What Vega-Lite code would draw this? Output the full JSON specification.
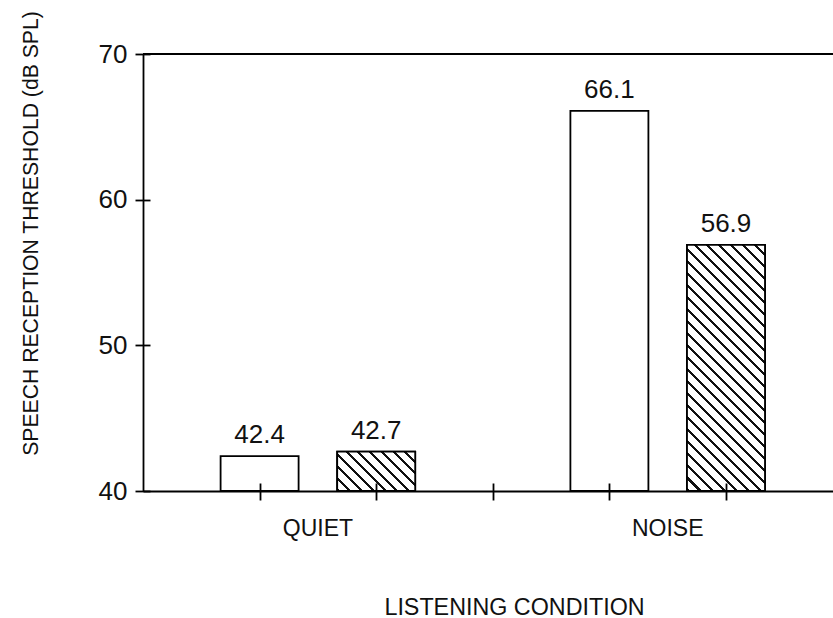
{
  "$schema": "https://vega.github.io/schema/vega-lite/v6.json",
  "width": 690,
  "height": 437,
  "autosize": {"type": "none"},
  "padding": {"left": 143, "top": 54, "right": 0, "bottom": 127},
  "background": "white",
  "config": {
    "view": {"stroke": null},
    "font": "Liberation Sans",
    "axis": {
      "grid": false,
      "labelFont": "Liberation Sans",
      "titleFont": "Liberation Sans",
      "labelColor": "#111111",
      "titleColor": "#111111",
      "titleFontWeight": "normal",
      "domainColor": "#000000",
      "tickColor": "#000000",
      "domainWidth": 1.8,
      "tickWidth": 1.8
    }
  },
  "data": {
    "values": [
      {"condition": "QUIET", "group": "open", "value": 42.4},
      {"condition": "QUIET", "group": "hatched", "value": 42.7},
      {"condition": "NOISE", "group": "open", "value": 66.1},
      {"condition": "NOISE", "group": "hatched", "value": 56.9}
    ]
  },
  "layer": [
    {
      "encoding": {
        "x": {
          "field": "condition",
          "type": "nominal",
          "sort": null,
          "scale": {"domain": ["QUIET", "NOISE"], "range": [0, 699.6], "paddingInner": 0, "paddingOuter": 0},
          "axis": {
            "orient": "bottom",
            "ticks": false,
            "tickSize": 0,
            "domain": false,
            "labelAngle": 0,
            "labelFontSize": 23,
            "labelPadding": 26,
            "encoding": {"labels": {"dx": {"signal": "datum.value === 'NOISE' ? 9 : -4"}}},
            "title": "LISTENING CONDITION",
            "titleFontSize": 23.3,
            "titleX": 371,
            "titleY": 123,
            "titleAlign": "center",
            "titleBaseline": "alphabetic"
          }
        },
        "xOffset": {
          "field": "group",
          "type": "nominal",
          "sort": null,
          "scale": {"domain": ["open", "hatched"], "paddingInner": 0.331, "paddingOuter": 0.6655}
        },
        "y": {
          "field": "value",
          "type": "quantitative",
          "scale": {"domain": [40, 70], "nice": false, "zero": false},
          "axis": {
            "orient": "left",
            "values": [40, 50, 60, 70],
            "tickSize": 8,
            "labelPadding": 8,
            "labelFontSize": 26,
            "zindex": 1,
            "encoding": {"ticks": {"x": {"value": 7}, "x2": {"value": -8}}},
            "title": "SPEECH RECEPTION THRESHOLD (dB SPL)",
            "titleFontSize": 21.2,
            "titleAngle": -90,
            "titleX": -106,
            "titleY": 179,
            "titleAlign": "center",
            "titleBaseline": "alphabetic"
          }
        }
      },
      "layer": [
        {
          "mark": {"type": "bar", "fill": "white", "stroke": "black", "strokeWidth": 1.8},
          "encoding": {"y2": {"datum": 40}}
        },
        {
          "transform": [{"filter": "datum.condition === 'QUIET' && datum.group === 'hatched'"}],
          "mark": {
            "type": "bar",
            "stroke": "black",
            "strokeWidth": 1.8,
            "fill": {
              "gradient": "linear",
              "x1": 0, "y1": 1, "x2": 1.19931, "y2": 0.395271,
              "stops": [
                {"offset": 0, "color": "#111111"}, {"offset": 0.026, "color": "#111111"}, {"offset": 0.026, "color": "#ffffff"}, {"offset": 0.1, "color": "#ffffff"},
                {"offset": 0.1, "color": "#111111"}, {"offset": 0.126, "color": "#111111"}, {"offset": 0.126, "color": "#ffffff"}, {"offset": 0.2, "color": "#ffffff"},
                {"offset": 0.2, "color": "#111111"}, {"offset": 0.226, "color": "#111111"}, {"offset": 0.226, "color": "#ffffff"}, {"offset": 0.3, "color": "#ffffff"},
                {"offset": 0.3, "color": "#111111"}, {"offset": 0.326, "color": "#111111"}, {"offset": 0.326, "color": "#ffffff"}, {"offset": 0.4, "color": "#ffffff"},
                {"offset": 0.4, "color": "#111111"}, {"offset": 0.426, "color": "#111111"}, {"offset": 0.426, "color": "#ffffff"}, {"offset": 0.5, "color": "#ffffff"},
                {"offset": 0.5, "color": "#111111"}, {"offset": 0.526, "color": "#111111"}, {"offset": 0.526, "color": "#ffffff"}, {"offset": 0.6, "color": "#ffffff"},
                {"offset": 0.6, "color": "#111111"}, {"offset": 0.626, "color": "#111111"}, {"offset": 0.626, "color": "#ffffff"}, {"offset": 0.7, "color": "#ffffff"},
                {"offset": 0.7, "color": "#111111"}, {"offset": 0.726, "color": "#111111"}, {"offset": 0.726, "color": "#ffffff"}, {"offset": 0.8, "color": "#ffffff"},
                {"offset": 0.8, "color": "#111111"}, {"offset": 0.826, "color": "#111111"}, {"offset": 0.826, "color": "#ffffff"}, {"offset": 0.9, "color": "#ffffff"},
                {"offset": 0.9, "color": "#111111"}, {"offset": 0.926, "color": "#111111"}, {"offset": 0.926, "color": "#ffffff"}, {"offset": 1, "color": "#ffffff"}
              ]
            }
          },
          "encoding": {"y2": {"datum": 40}}
        },
        {
          "transform": [{"filter": "datum.condition === 'NOISE' && datum.group === 'hatched'"}],
          "mark": {
            "type": "bar",
            "stroke": "black",
            "strokeWidth": 1.8,
            "fill": {
              "gradient": "linear",
              "x1": 0, "y1": 1, "x2": 0.37917, "y2": -0.19672,
              "stops": [
                {"offset": 0, "color": "#111111"}, {"offset": 0.0095, "color": "#111111"}, {"offset": 0.0095, "color": "#ffffff"}, {"offset": 0.037, "color": "#ffffff"},
                {"offset": 0.037, "color": "#111111"}, {"offset": 0.0465, "color": "#111111"}, {"offset": 0.0465, "color": "#ffffff"}, {"offset": 0.0741, "color": "#ffffff"},
                {"offset": 0.0741, "color": "#111111"}, {"offset": 0.0836, "color": "#111111"}, {"offset": 0.0836, "color": "#ffffff"}, {"offset": 0.1111, "color": "#ffffff"},
                {"offset": 0.1111, "color": "#111111"}, {"offset": 0.1206, "color": "#111111"}, {"offset": 0.1206, "color": "#ffffff"}, {"offset": 0.1481, "color": "#ffffff"},
                {"offset": 0.1481, "color": "#111111"}, {"offset": 0.1576, "color": "#111111"}, {"offset": 0.1576, "color": "#ffffff"}, {"offset": 0.1852, "color": "#ffffff"},
                {"offset": 0.1852, "color": "#111111"}, {"offset": 0.1947, "color": "#111111"}, {"offset": 0.1947, "color": "#ffffff"}, {"offset": 0.2222, "color": "#ffffff"},
                {"offset": 0.2222, "color": "#111111"}, {"offset": 0.2317, "color": "#111111"}, {"offset": 0.2317, "color": "#ffffff"}, {"offset": 0.2593, "color": "#ffffff"},
                {"offset": 0.2593, "color": "#111111"}, {"offset": 0.2688, "color": "#111111"}, {"offset": 0.2688, "color": "#ffffff"}, {"offset": 0.2963, "color": "#ffffff"},
                {"offset": 0.2963, "color": "#111111"}, {"offset": 0.3058, "color": "#111111"}, {"offset": 0.3058, "color": "#ffffff"}, {"offset": 0.3333, "color": "#ffffff"},
                {"offset": 0.3333, "color": "#111111"}, {"offset": 0.3428, "color": "#111111"}, {"offset": 0.3428, "color": "#ffffff"}, {"offset": 0.3704, "color": "#ffffff"},
                {"offset": 0.3704, "color": "#111111"}, {"offset": 0.3799, "color": "#111111"}, {"offset": 0.3799, "color": "#ffffff"}, {"offset": 0.4074, "color": "#ffffff"},
                {"offset": 0.4074, "color": "#111111"}, {"offset": 0.4169, "color": "#111111"}, {"offset": 0.4169, "color": "#ffffff"}, {"offset": 0.4444, "color": "#ffffff"},
                {"offset": 0.4444, "color": "#111111"}, {"offset": 0.4539, "color": "#111111"}, {"offset": 0.4539, "color": "#ffffff"}, {"offset": 0.4815, "color": "#ffffff"},
                {"offset": 0.4815, "color": "#111111"}, {"offset": 0.491, "color": "#111111"}, {"offset": 0.491, "color": "#ffffff"}, {"offset": 0.5185, "color": "#ffffff"},
                {"offset": 0.5185, "color": "#111111"}, {"offset": 0.528, "color": "#111111"}, {"offset": 0.528, "color": "#ffffff"}, {"offset": 0.5556, "color": "#ffffff"},
                {"offset": 0.5556, "color": "#111111"}, {"offset": 0.5651, "color": "#111111"}, {"offset": 0.5651, "color": "#ffffff"}, {"offset": 0.5926, "color": "#ffffff"},
                {"offset": 0.5926, "color": "#111111"}, {"offset": 0.6021, "color": "#111111"}, {"offset": 0.6021, "color": "#ffffff"}, {"offset": 0.6296, "color": "#ffffff"},
                {"offset": 0.6296, "color": "#111111"}, {"offset": 0.6391, "color": "#111111"}, {"offset": 0.6391, "color": "#ffffff"}, {"offset": 0.6667, "color": "#ffffff"},
                {"offset": 0.6667, "color": "#111111"}, {"offset": 0.6762, "color": "#111111"}, {"offset": 0.6762, "color": "#ffffff"}, {"offset": 0.7037, "color": "#ffffff"},
                {"offset": 0.7037, "color": "#111111"}, {"offset": 0.7132, "color": "#111111"}, {"offset": 0.7132, "color": "#ffffff"}, {"offset": 0.7407, "color": "#ffffff"},
                {"offset": 0.7407, "color": "#111111"}, {"offset": 0.7502, "color": "#111111"}, {"offset": 0.7502, "color": "#ffffff"}, {"offset": 0.7778, "color": "#ffffff"},
                {"offset": 0.7778, "color": "#111111"}, {"offset": 0.7873, "color": "#111111"}, {"offset": 0.7873, "color": "#ffffff"}, {"offset": 0.8148, "color": "#ffffff"},
                {"offset": 0.8148, "color": "#111111"}, {"offset": 0.8243, "color": "#111111"}, {"offset": 0.8243, "color": "#ffffff"}, {"offset": 0.8519, "color": "#ffffff"},
                {"offset": 0.8519, "color": "#111111"}, {"offset": 0.8614, "color": "#111111"}, {"offset": 0.8614, "color": "#ffffff"}, {"offset": 0.8889, "color": "#ffffff"},
                {"offset": 0.8889, "color": "#111111"}, {"offset": 0.8984, "color": "#111111"}, {"offset": 0.8984, "color": "#ffffff"}, {"offset": 0.9259, "color": "#ffffff"},
                {"offset": 0.9259, "color": "#111111"}, {"offset": 0.9354, "color": "#111111"}, {"offset": 0.9354, "color": "#ffffff"}, {"offset": 0.963, "color": "#ffffff"},
                {"offset": 0.963, "color": "#111111"}, {"offset": 0.9725, "color": "#111111"}, {"offset": 0.9725, "color": "#ffffff"}, {"offset": 1, "color": "#ffffff"}
              ]
            }
          },
          "encoding": {"y2": {"datum": 40}}
        },
        {
          "mark": {"type": "text", "baseline": "alphabetic", "dy": -13, "fontSize": 26, "color": "#111111", "font": "Liberation Sans"},
          "encoding": {"text": {"field": "value", "type": "quantitative", "format": ".1f"}}
        }
      ]
    },
    {
      "mark": {"type": "rule", "stroke": "black", "strokeWidth": 1.8},
      "encoding": {"y": {"datum": 70, "type": "quantitative"}}
    },
    {
      "mark": {"type": "rule", "opacity": 0},
      "encoding": {
        "x": {
          "datum": 0,
          "type": "quantitative",
          "scale": {"domain": [0, 6], "range": [0, 699.6], "nice": false, "zero": false},
          "axis": {
            "orient": "bottom",
            "values": [1, 2, 3, 4, 5],
            "tickSize": 9,
            "labels": false,
            "title": null,
            "domain": true,
            "zindex": 1,
            "encoding": {"ticks": {"y": {"value": -8}}}
          }
        }
      }
    }
  ],
  "resolve": {"scale": {"x": "independent"}, "axis": {"x": "independent"}}
}
